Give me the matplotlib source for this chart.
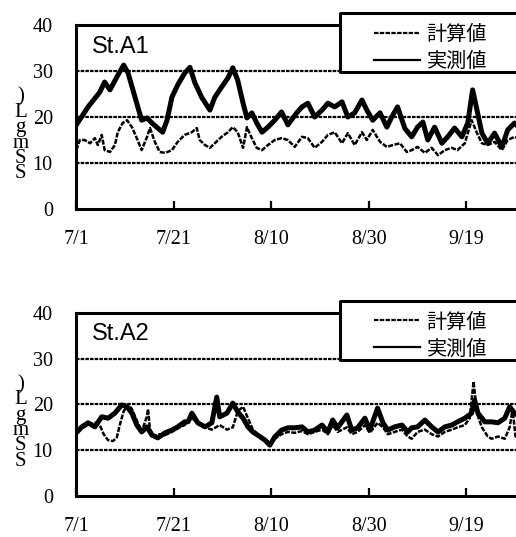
import matplotlib
matplotlib.use("Agg")
import matplotlib.pyplot as plt

plt.rcParams['font.family'] = ['Liberation Serif', 'DejaVu Serif']

# days after 7/1, values in mg/L
a1_obs_day = [0, 2.4, 4.8, 5.8, 6.9, 8.3, 9.7, 10.6, 11.6, 12.6, 13.4, 14.5, 15.5,
              16.7, 17.7, 18.6, 19.6, 20.8, 22.2, 23.3, 24.3, 25.7, 27.4, 28.4,
              29.8, 31.1, 32.1, 33.1, 34.2, 35.0, 36.0, 37.0, 38.1, 39.3, 40.7,
              42.1, 43.4, 45.2, 46.3, 47.5, 48.9, 50.4, 51.6, 53.0, 54.5, 55.7,
              57.1, 58.6, 59.6, 60.8, 62.3, 63.7, 64.7, 65.9, 67.4, 68.8, 70.0,
              71.1, 72.1, 73.5, 75.0, 76.2, 77.6, 79.1, 80.3, 81.3, 82.2, 83.2,
              84.4, 85.8, 87.3, 88.5, 89.9, 91.4]
a1_obs = [18.3, 22.2, 25.4, 27.6, 25.9, 28.7, 31.3, 29.6, 25.9, 22.2, 19.3, 19.8,
          18.7, 17.6, 16.7, 19.3, 24.3, 27.0, 29.5, 30.8, 27.5, 24.3, 21.5, 24.3,
          26.5, 28.5, 30.7, 28.0, 23.0, 19.8, 20.9, 18.7, 16.7, 17.8, 19.3,
          21.1, 18.3, 20.9, 22.2, 23.0, 20.0, 21.5, 23.0, 22.2, 23.3, 20.0,
          20.9, 23.7, 21.5, 19.3, 20.9, 17.8, 20.0, 22.2, 17.5, 15.7, 17.8,
          18.9, 15.0, 17.8, 14.3, 15.7, 17.6, 15.7, 18.7, 25.9, 21.5, 16.5,
          14.3, 16.5, 13.5, 17.2, 18.7, 17.0]

a1_calc_day = [0, 0.7, 1.7, 2.8, 3.8, 4.4, 5.2, 5.8, 6.9, 7.9, 8.5, 9.5, 10.4,
               11.4, 12.4, 13.4, 14.5, 15.1, 16.1, 17.1, 18.2, 19.6, 20.8, 22.2,
               23.7, 24.7, 25.3, 26.4, 27.4, 28.4, 29.8, 31.1, 32.1, 33.1, 34.2,
               35.0, 36.0, 37.0, 38.1, 39.3, 40.7, 42.1, 43.4, 44.8, 46.3, 47.5,
               48.9, 50.4, 51.6, 53.0, 54.5, 55.7, 57.1, 58.6, 59.6, 60.8, 62.3,
               63.7, 64.9, 66.4, 67.8, 68.8, 70.0, 71.5, 72.9, 74.2, 75.6, 77.0,
               78.2, 79.7, 81.1, 82.2, 83.2, 84.4, 85.8, 87.3, 88.5, 89.9, 91.4]
a1_calc = [12.8, 15.0, 15.0, 14.3, 15.4, 13.9, 16.1, 12.8, 12.4, 13.9, 16.7, 18.7,
           19.3, 17.8, 15.4, 12.8, 15.7, 17.6, 14.6, 12.4, 12.2, 12.8, 14.6, 16.1,
           16.7, 17.6, 15.0, 13.9, 13.3, 14.3, 15.7, 16.7, 17.8, 16.7, 13.3,
           17.8, 15.4, 13.3, 12.8, 13.9, 15.0, 15.4, 15.0, 13.5, 15.7, 15.4,
           13.3, 14.6, 16.1, 16.7, 14.3, 16.5, 13.9, 16.7, 15.0, 17.2, 14.6,
           13.5, 13.9, 14.3, 12.4, 12.8, 13.5, 12.2, 13.3, 11.7, 12.8, 13.3,
           12.8, 14.3, 19.3, 16.5, 14.3, 13.9, 14.6, 12.8, 15.0, 15.7, 15.0]

a2_obs_day = [0, 1.1, 2.4, 3.8, 5.2, 6.5, 7.9, 9.3, 10.4, 11.4, 12.4, 13.4, 14.5,
              15.5, 16.7, 18.2, 19.6, 20.8, 22.2, 22.9, 23.7, 24.9, 26.4, 27.8,
              28.8, 29.4, 30.9, 32.1, 33.1, 34.2, 35.2, 36.2, 37.2, 38.7, 39.7,
              40.7, 42.1, 43.4, 44.8, 46.3, 47.5, 48.9, 50.4, 51.6, 52.6, 53.6,
              55.5, 56.5, 57.7, 59.2, 60.2, 61.8, 62.9, 63.9, 65.3, 66.8, 68.0,
              68.8, 70.0, 71.5, 72.9, 74.2, 75.6, 77.0, 78.2, 79.7, 81.1, 81.7,
              82.4, 83.8, 85.2, 86.5, 87.9, 88.9, 89.9, 91.4]
a2_obs = [13.8, 15.1, 16.0, 15.1, 17.3, 17.0, 18.1, 19.9, 19.5, 18.1, 15.5, 14.0,
          15.1, 13.3, 12.7, 13.8, 14.4, 15.1, 16.2, 16.2, 18.1, 16.0, 15.1, 16.0,
          21.6, 17.3, 18.1, 20.3, 18.4, 17.0, 15.1, 14.0, 13.3, 12.2, 11.1,
          12.9, 14.4, 14.9, 14.9, 15.1, 14.0, 14.4, 15.5, 14.0, 16.6, 14.9,
          17.7, 14.4, 14.9, 17.0, 14.4, 19.2, 16.0, 14.4, 15.1, 15.5, 14.0,
          14.9, 15.1, 16.6, 15.1, 14.0, 15.1, 15.5, 16.2, 17.0, 18.1, 21.0,
          18.1, 16.2, 16.2, 16.0, 17.0, 19.5, 18.1, 17.0]

a2_calc_day = [0, 1.1, 2.4, 3.8, 4.8, 5.6, 6.5, 7.5, 8.3, 8.9, 9.7, 10.6, 11.4,
               12.4, 13.4, 14.5, 14.7, 15.1, 16.1, 17.1, 18.2, 19.6, 20.8, 22.2,
               23.7, 24.9, 26.4, 27.8, 29.4, 30.9, 32.1, 33.1, 34.2, 35.2, 36.2,
               37.2, 38.7, 39.7, 40.7, 42.1, 43.4, 44.8, 46.3, 47.5, 48.9, 50.4,
               51.6, 52.6, 53.6, 55.5, 56.5, 57.7, 59.2, 60.2, 61.8, 62.9, 63.9,
               65.3, 66.8, 68.0, 68.8, 70.0, 71.5, 72.9, 74.2, 75.6, 77.0, 78.2,
               79.7, 80.7, 81.5, 82.2, 83.2, 84.4, 85.2, 86.5, 87.9, 88.9, 89.5,
               90.1, 91.4]
a2_calc = [14.5, 14.8, 15.5, 16.0, 15.5, 13.5, 12.2, 12.0, 12.8, 15.5, 18.5, 20.0,
           19.0, 16.5, 14.0, 17.5, 19.0, 14.5, 13.0, 13.5, 13.3, 14.0, 14.8, 15.5,
           17.0, 16.0, 15.0, 14.5, 15.5, 14.5, 15.0, 18.5, 19.5, 17.0, 14.5,
           13.5, 12.5, 11.5, 12.5, 13.5, 14.0, 13.8, 14.2, 13.5, 14.0, 14.5,
           13.5, 15.5, 14.0, 15.0, 13.5, 14.0, 15.5, 13.8, 16.0, 15.0, 13.5,
           14.0, 14.5, 13.0, 12.5, 14.0, 14.5, 13.5, 13.0, 14.0, 14.5, 15.0,
           15.5, 17.0, 25.0, 18.0, 15.0, 13.0, 12.5, 13.0, 12.5, 15.0, 19.0,
           13.0, 14.0]

tick_days = [0, 20, 40, 60, 80]
tick_labels = ['7/1', '7/21', '8/10', '8/30', '9/19']
y_ticks = [0, 10, 20, 30, 40]
ylabel_chars = [')', 'L', 'g', 'm', 'S', 'S']
legend_labels = ['計算値', '実測値']
cjk = ['Noto Sans CJK JP', 'DejaVu Sans']

XMAX = 92
BOX_LEFT, BOX_BOTTOM, BOX_TOP = 0.589, 0.745, 1.065


def draw_panel(ax, obs_day, obs, calc_day, calc, title):
    # grid lines; the 30 line runs under the legend box
    for y in y_ticks[1:-1]:
        xmax = BOX_LEFT if y == 30 else 1
        ax.axhline(y, xmax=xmax, color='black', lw=1.6, ls=(0, (1.6, 0.5)),
                   zorder=1)

    calc_line, = ax.plot(calc_day, calc, color='black', lw=1.8,
                         ls=(0, (2.0, 0.6)), zorder=2)
    obs_line, = ax.plot(obs_day, obs, color='black', lw=3.6, zorder=3)

    ax.set_xlim(0, XMAX)
    ax.set_ylim(0, 40)
    ax.set_xticks(tick_days)
    ax.set_xticklabels(tick_labels)
    ax.set_yticks(y_ticks)
    ax.tick_params(axis='x', direction='in', length=6, width=1.6,
                   labelsize=14.5, pad=15)
    ax.tick_params(axis='y', length=0, labelsize=14.5, pad=17)
    for side in ['left', 'bottom', 'top']:
        ax.spines[side].set_linewidth(2.2)
    ax.spines['right'].set_visible(False)
    ax.spines['top'].set_bounds(0, BOX_LEFT * XMAX)

    ax.set_ylabel('\n'.join(ylabel_chars), rotation=0, fontsize=15,
                  linespacing=0.74, va='center', ha='center')
    ax.yaxis.set_label_coords(-0.125, 0.40)

    ax.text(0.035, 0.883, title, transform=ax.transAxes, fontsize=17,
            family='Liberation Sans', va='center', ha='left')

    # legend frame, open on the right where the figure crops it
    frame_kw = dict(transform=ax.transAxes, color='black', lw=2.2,
                    clip_on=False, zorder=5.5, solid_capstyle='butt')
    ax.plot([BOX_LEFT, 1.0], [BOX_BOTTOM, BOX_BOTTOM], **frame_kw)
    ax.plot([BOX_LEFT, 1.0], [BOX_TOP, BOX_TOP], **frame_kw)
    ax.plot([BOX_LEFT, BOX_LEFT], [BOX_BOTTOM - 0.005, BOX_TOP + 0.005],
            **frame_kw)
    leg = ax.legend([calc_line, obs_line], legend_labels, loc='upper left',
                    bbox_to_anchor=(0.664, 1.008), frameon=False,
                    borderpad=0, borderaxespad=0, handlelength=2.3,
                    handletextpad=0.3, labelspacing=0.3,
                    prop={'family': cjk, 'size': 14.5})
    leg.set_zorder(6)
    for h in leg.legend_handles:
        h.set_linewidth(1.6)


fig = plt.figure(figsize=(5.16, 5.37), dpi=100)
ax1 = fig.add_axes([0.148, 0.6108, 0.869, 0.3426])
ax2 = fig.add_axes([0.148, 0.0764, 0.869, 0.3408])

draw_panel(ax1, a1_obs_day, a1_obs, a1_calc_day, a1_calc, 'St.A1')
draw_panel(ax2, a2_obs_day, a2_obs, a2_calc_day, a2_calc, 'St.A2')

fig.savefig('out.png', dpi=100)
